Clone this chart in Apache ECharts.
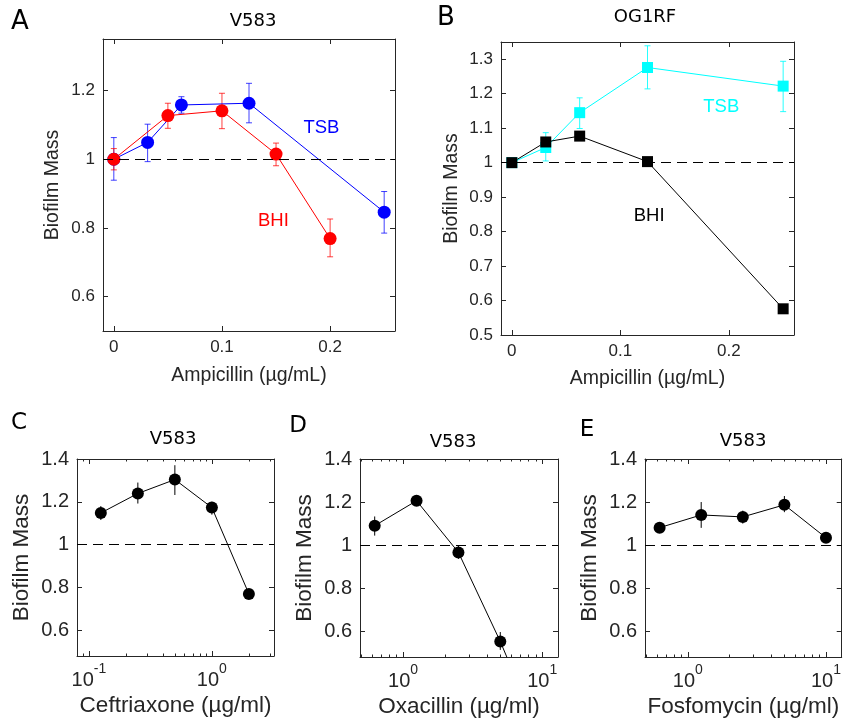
<!DOCTYPE html>
<html><head><meta charset="utf-8">
<script src="https://cdn.jsdelivr.net/npm/echarts@6/dist/echarts.min.js"></script>
<style>html,body{margin:0;padding:0;background:#fff}#c{width:844px;height:723px}</style>
</head><body><div id="c"></div>
<script>
// ---------- DATA ----------
// Panel A: V583, Ampicillin
const A_TSB_x  = [0, 0.03125, 0.0625, 0.125, 0.25];
const A_TSB_y  = [1.000, 1.049, 1.158, 1.163, 0.846];
const A_TSB_lo = [0.939, 0.993, 1.134, 1.106, 0.785];
const A_TSB_hi = [1.063, 1.102, 1.182, 1.221, 0.906];
const A_BHI_x  = [0, 0.05, 0.1, 0.15, 0.2];
const A_BHI_y  = [1.000, 1.127, 1.141, 1.015, 0.769];
const A_BHI_lo = [0.969, 1.090, 1.089, 0.981, 0.716];
const A_BHI_hi = [1.031, 1.163, 1.192, 1.047, 0.826];
// Panel B: OG1RF, Ampicillin
const B_x      = [0, 0.03125, 0.0625, 0.125, 0.25];
const B_TSB_y  = [1.000, 1.044, 1.145, 1.276, 1.222];
const B_TSB_lo = [0.995, 1.005, 1.099, 1.214, 1.148];
const B_TSB_hi = [1.005, 1.087, 1.188, 1.339, 1.294];
const B_BHI_y  = [1.000, 1.060, 1.077, 1.003, 0.576];
const B_BHI_lo = [0.995, 1.050, 1.067, 0.995, 0.566];
const B_BHI_hi = [1.005, 1.070, 1.087, 1.011, 0.586];
// Panel C: Ceftriaxone
const C_x  = [0.125, 0.25, 0.5, 1, 2];
const C_y  = [1.148, 1.239, 1.304, 1.173, 0.770];
const C_lo = [1.115, 1.192, 1.232, 1.140, 0.760];
const C_hi = [1.180, 1.290, 1.371, 1.200, 0.780];
// Panel D: Oxacillin
const D_x  = [0.625, 1.25, 2.5, 5, 10];
const D_y  = [1.090, 1.206, 0.966, 0.552, 0.090];
const D_lo = [1.044, 1.185, 0.936, 0.513, 0.050];
const D_hi = [1.133, 1.226, 0.996, 0.596, 0.130];
// Panel E: Fosfomycin
const E_x  = [0.625, 1.25, 2.5, 5, 10];
const E_y  = [1.081, 1.140, 1.131, 1.187, 1.034];
const E_lo = [1.060, 1.080, 1.100, 1.153, 1.015];
const E_hi = [1.100, 1.200, 1.160, 1.228, 1.055];
// Tick values
const AB_xTicks = [0, 0.1, 0.2];
const A_yTicks = [0.6, 0.8, 1, 1.2];
const B_yTicks = [0.5, 0.6, 0.7, 0.8, 0.9, 1, 1.1, 1.2, 1.3];
const CDE_yTicks = [0.6, 0.8, 1, 1.2, 1.4];
const C_xMajor = [0.1, 1];
const C_xMinor = [0.08, 0.09, 0.2, 0.3, 0.4, 0.5, 0.6, 0.7, 0.8, 0.9, 2, 3];
const DE_xMajor = [1, 10];
const DE_xMinor = [0.5, 0.6, 0.7, 0.8, 0.9, 2, 3, 4, 5, 6, 7, 8, 9];
// Reference level
const refLevel = 1;
// Text annotations (data coords)
const A_notes = [{coord: [0.192, 1.091], name: 'TSB', color: '#0000ff'}, {coord: [0.1476, 0.820], name: 'BHI', color: '#ff0000'}];
const B_notes = [{coord: [0.193, 1.163], name: 'TSB', color: '#00ffff'}, {coord: [0.1265, 0.845], name: 'BHI', color: '#000000'}];

// ---------- BUILD ----------
const FONT = 'Liberation Sans';
const TFONT = 'DejaVu Sans';
const AX = '#262626';
const grid = [], xAxis = [], yAxis = [], series = [], graphic = [];

function addGrid(r) { grid.push({left: r[0], top: r[1], width: r[2], height: r[3], containLabel: false}); return grid.length - 1; }

function addX(g, c) {
  const base = {gridIndex: g, type: c.type, min: c.min, max: c.max, splitLine: {show: false},
    axisLine: {show: true, onZero: false, lineStyle: {color: AX, width: 1}}};
  const idx = xAxis.length;
  xAxis.push(Object.assign({}, base, {
    position: 'bottom', name: c.name, nameLocation: 'middle', nameGap: c.gap,
    nameTextStyle: {fontFamily: FONT, fontSize: c.nfs, color: AX},
    axisTick: {show: true, inside: true, length: c.tl, customValues: c.ticks, lineStyle: {color: AX}},
    axisLabel: {show: true, customValues: c.ticks, formatter: c.fmt, margin: c.margin,
      fontFamily: FONT, fontSize: c.fs, color: AX, rich: c.rich}
  }));
  xAxis.push(Object.assign({}, base, {position: 'top',
    axisTick: {show: true, inside: true, length: c.tl, customValues: c.ticks, lineStyle: {color: AX}},
    axisLabel: {show: false}}));
  if (c.minor) {
    ['bottom', 'top'].forEach(p => xAxis.push(Object.assign({}, base, {position: p,
      axisLine: {show: false, onZero: false},
      axisTick: {show: true, inside: true, length: c.tl * 0.5, customValues: c.minor, lineStyle: {color: AX}},
      axisLabel: {show: false}})));
  }
  return idx;
}
function addY(g, c) {
  const base = {gridIndex: g, type: 'value', min: c.min, max: c.max, splitLine: {show: false},
    axisLine: {show: true, onZero: false, lineStyle: {color: AX, width: 1}}};
  const idx = yAxis.length;
  yAxis.push(Object.assign({}, base, {
    position: 'left', name: c.name, nameLocation: 'middle', nameGap: c.gap,
    nameTextStyle: {fontFamily: FONT, fontSize: c.nfs, color: AX},
    axisTick: {show: true, inside: true, length: c.tl, customValues: c.ticks, lineStyle: {color: AX}},
    axisLabel: {show: true, customValues: c.ticks, margin: c.margin, fontFamily: FONT, fontSize: c.fs, color: AX}
  }));
  yAxis.push(Object.assign({}, base, {position: 'right',
    axisTick: {show: true, inside: true, length: c.tl, customValues: c.ticks, lineStyle: {color: AX}},
    axisLabel: {show: false}}));
  return idx;
}
function zip3(x, a, b) { return x.map((v, i) => [v, a[i], b[i]]); }
function zip2(x, a) { return x.map((v, i) => [v, a[i]]); }

function errSeries(xi, yi, x, lo, hi, color, cap, opacity) {
  return {type: 'custom', xAxisIndex: xi, yAxisIndex: yi, clip: true, silent: true, z: 3,
    data: zip3(x, lo, hi), encode: {x: 0, y: [1, 2]},
    renderItem: function (params, api) {
      const xv = api.value(0), a = api.coord([xv, api.value(1)]), b = api.coord([xv, api.value(2)]);
      const st = {stroke: color, lineWidth: 1, opacity: opacity};
      const ch = [{type: 'line', shape: {x1: a[0], y1: a[1], x2: b[0], y2: b[1]}, style: st}];
      if (cap) {
        ch.push({type: 'line', shape: {x1: a[0] - cap, y1: a[1], x2: a[0] + cap, y2: a[1]}, style: st});
        ch.push({type: 'line', shape: {x1: b[0] - cap, y1: b[1], x2: b[0] + cap, y2: b[1]}, style: st});
      }
      return {type: 'group', children: ch};
    }};
}
function lineSeries(xi, yi, x, y, color, symbol, size, notes, nfs) {
  const s = {type: 'line', xAxisIndex: xi, yAxisIndex: yi, data: zip2(x, y), clip: true, z: 4,
    symbol: symbol, symbolSize: size, showSymbol: true,
    itemStyle: {color: color, borderWidth: 0, opacity: 1},
    lineStyle: {color: color, width: 1}, silent: true};
  if (notes) {
    s.markPoint = {symbol: 'circle', symbolSize: 0, silent: true, animation: false,
      data: notes.map(n => ({coord: n.coord, name: n.name,
        label: {show: true, position: 'inside', formatter: '{b}', color: n.color, fontFamily: FONT, fontSize: nfs}}))};
  }
  return s;
}
function refSeries(xi, yi) {
  return {type: 'line', xAxisIndex: xi, yAxisIndex: yi, data: [], z: 2, silent: true,
    markLine: {silent: true, animation: false, symbol: ['none', 'none'], label: {show: false},
      lineStyle: {color: '#000', width: 1, type: [10, 6]}, emphasis: {disabled: true},
      data: [{yAxis: refLevel}]}};
}
function text(x, y, t, size, font) {
  graphic.push({type: 'text', x: x, y: y, silent: true,
    style: {text: t, font: size + 'px "' + (font || TFONT) + '"', fill: '#000', textAlign: 'center', textVerticalAlign: 'middle'}});
}
const supFmt = v => '{b|10}{s|' + Math.round(Math.log10(v)) + '}';
const supRich = {b: {fontFamily: FONT, fontSize: 20, color: AX, lineHeight: 28, verticalAlign: 'bottom'},
                 s: {fontFamily: FONT, fontSize: 14, color: AX, lineHeight: 14, verticalAlign: 'top'}};

// Panel A
let g = addGrid([103, 39, 292, 292]);
let xi = addX(g, {type: 'value', min: -0.01, max: 0.26, ticks: AB_xTicks, tl: 5, fs: 17, margin: 8,
  name: 'Ampicillin (µg/mL)', gap: 35, nfs: 19.5});
let yi = addY(g, {min: 0.5, max: 1.35, ticks: A_yTicks, tl: 5, fs: 17, margin: 8, name: 'Biofilm Mass', gap: 40, nfs: 19.5});
series.push(refSeries(xi, yi));
series.push(errSeries(xi, yi, A_TSB_x, A_TSB_lo, A_TSB_hi, '#0000ff', 3, 0.75));
series.push(lineSeries(xi, yi, A_TSB_x, A_TSB_y, '#0000ff', 'circle', 13, [A_notes[0]], 18.5));
series.push(errSeries(xi, yi, A_BHI_x, A_BHI_lo, A_BHI_hi, '#ff0000', 3, 0.75));
series.push(lineSeries(xi, yi, A_BHI_x, A_BHI_y, '#ff0000', 'circle', 13, [A_notes[1]], 18.5));
text(20, 22, 'A', 26); text(253, 21, 'V583', 18);

// Panel B
g = addGrid([501, 42, 293, 293]);
xi = addX(g, {type: 'value', min: -0.01, max: 0.26, ticks: AB_xTicks, tl: 5, fs: 17, margin: 8,
  name: 'Ampicillin (µg/mL)', gap: 34, nfs: 19.5});
yi = addY(g, {min: 0.5, max: 1.35, ticks: B_yTicks, tl: 5, fs: 17, margin: 8, name: 'Biofilm Mass', gap: 39, nfs: 19.5});
series.push(refSeries(xi, yi));
series.push(errSeries(xi, yi, B_x, B_TSB_lo, B_TSB_hi, '#00ffff', 3, 0.85));
series.push(lineSeries(xi, yi, B_x, B_TSB_y, '#00ffff', 'rect', 11, [B_notes[0]], 18.5));
series.push(errSeries(xi, yi, B_x, B_BHI_lo, B_BHI_hi, '#000000', 3, 0.85));
series.push(lineSeries(xi, yi, B_x, B_BHI_y, '#000000', 'rect', 11, [B_notes[1]], 18.5));
text(446, 18, 'B', 26); text(645, 17, 'OG1RF', 18);

// Panels C, D, E
const bottom = [
  {rect: [77, 459, 197, 197], min: 0.08, max: 3.2, major: C_xMajor, minor: C_xMinor, x: C_x, y: C_y, lo: C_lo, hi: C_hi,
   name: 'Ceftriaxone (µg/ml)', letter: 'C', lx: 19, ly: 423, tx: 173, ty: 439},
  {rect: [360, 459, 198, 198], min: 0.49, max: 13, major: DE_xMajor, minor: DE_xMinor, x: D_x, y: D_y, lo: D_lo, hi: D_hi,
   name: 'Oxacillin (µg/ml)', letter: 'D', lx: 298, ly: 426, tx: 453, ty: 442},
  {rect: [645, 459, 198, 198], min: 0.49, max: 13, major: DE_xMajor, minor: DE_xMinor, x: E_x, y: E_y, lo: E_lo, hi: E_hi,
   name: 'Fosfomycin (µg/ml)', letter: 'E', lx: 587, ly: 430, tx: 743, ty: 441}
];
bottom.forEach(p => {
  const gg = addGrid(p.rect);
  const xx = addX(gg, {type: 'log', min: p.min, max: p.max, ticks: p.major, minor: p.minor, tl: 5, fs: 20, margin: 6,
    fmt: supFmt, rich: supRich, name: p.name, gap: 38, nfs: 22.5});
  const yy = addY(gg, {min: 0.48, max: 1.4, ticks: CDE_yTicks, tl: 5, fs: 20, margin: 8, name: 'Biofilm Mass', gap: 44, nfs: 22.5});
  series.push(refSeries(xx, yy));
  series.push(errSeries(xx, yy, p.x, p.lo, p.hi, '#000000', 0, 1));
  series.push(lineSeries(xx, yy, p.x, p.y, '#000000', 'circle', 12));
  text(p.lx, p.ly, p.letter, 23); text(p.tx, p.ty, 'V583', 18);
});

const chart = echarts.init(document.getElementById('c'), null, {renderer: 'canvas'});
chart.setOption({animation: false, backgroundColor: '#fff', grid, xAxis, yAxis, series, graphic});
</script></body></html>
